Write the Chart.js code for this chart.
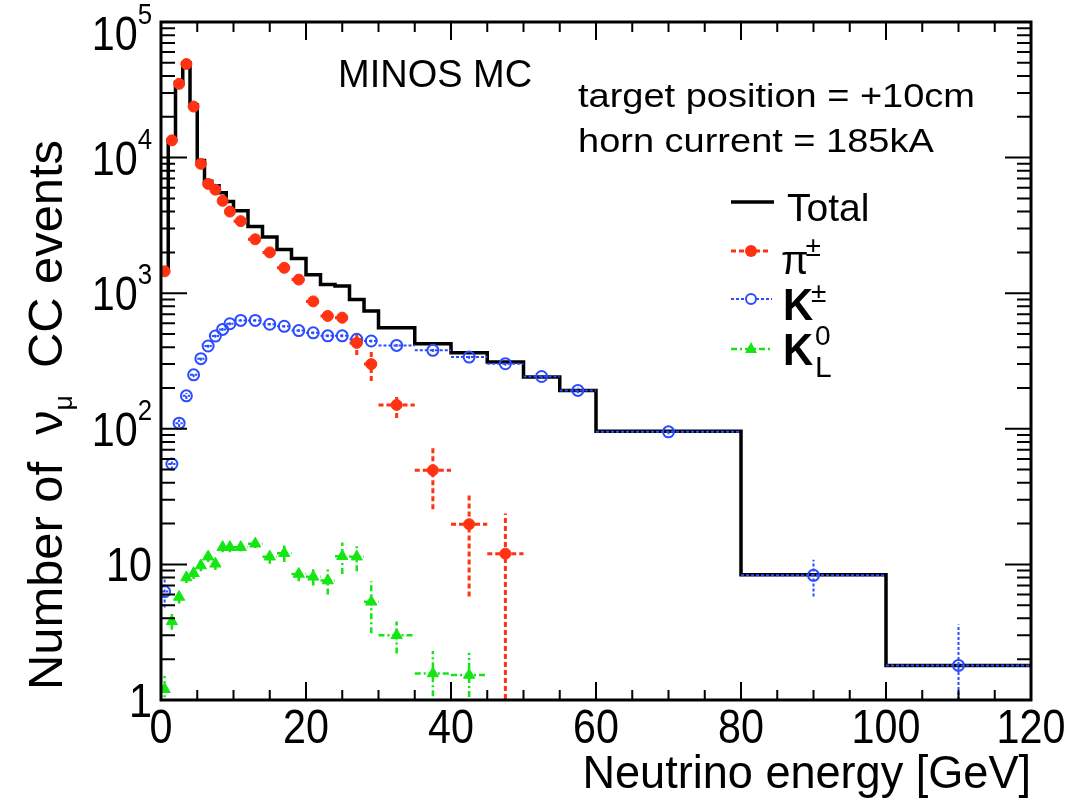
<!DOCTYPE html>
<html>
<head>
<meta charset="utf-8">
<script src="https://cdn.jsdelivr.net/npm/chart.js@4.4.1/dist/chart.umd.min.js"></script>
<style>
  html, body { margin: 0; padding: 0; background: #fff; }
  canvas { display: block; }
</style>
</head>
<body>
<canvas id="fluxChart" width="1072" height="801"></canvas>
<script>
// ---- data ----
const binEdges = [0, 1, 2, 3, 4, 5, 6, 7, 8, 9, 10, 12, 14, 16, 18, 20, 22, 24, 26, 28, 30,
                  35, 40, 45, 50, 55, 60, 80, 100, 120];
const totalCounts = [1450, 13500, 36000, 50000, 24500, 9500, 6700, 6200, 5500, 4750,
                     4050, 3100, 2600, 2100, 1800, 1370, 1160, 1130, 900, 740,
                     556, 424, 364, 311, 241, 192, 96, 8.4, 1.8];

const pionE   = [0.5, 1.5, 2.5, 3.5, 4.5, 5.5, 6.5, 7.5, 8.5, 9.5,
                 11, 13, 15, 17, 19, 21, 23, 25, 27, 29, 32.5, 37.5, 42.5, 47.5];
const pionN   = [1450, 13400, 35000, 49000, 23800, 9000, 6400, 5800, 4800, 4000,
                 3400, 2500, 2000, 1540, 1260, 870, 680, 660, 430, 300, 150, 49.5, 19.8, 12];
const pionErr = [30, 100, 150, 180, 130, 80, 70, 65, 60, 55,
                 40, 35, 30, 30, 30, 30, 60, 60, 80, 75, 30, 24, 14, 11.7];

const kaonE   = [0.5, 1.5, 2.5, 3.5, 4.5, 5.5, 6.5, 7.5, 8.5, 9.5,
                 11, 13, 15, 17, 19, 21, 23, 25, 27, 29, 32.5, 37.5, 42.5, 47.5,
                 52.5, 57.5, 70, 90, 110];
const kaonN   = [6.3, 55, 110, 175, 250, 329, 408, 483, 541, 595,
                 630, 630, 590, 570, 530, 510, 485, 485, 457, 444, 412, 379, 338, 302,
                 243, 192, 95, 8.3, 1.8];
const kaonErr = [1.5, 5, 7, 9, 10, 11, 12, 13, 14, 14,
                 12, 12, 12, 12, 12, 12, 12, 12, 12, 12, 10, 10, 10, 10,
                 10, 9, 4, 2.5, 1.8];

const k0E   = [0.5, 1.5, 2.5, 3.5, 4.5, 5.5, 6.5, 7.5, 8.5, 9.5,
               11, 13, 15, 17, 19, 21, 23, 25, 27, 29, 32.5, 37.5, 42.5];
const k0N   = [1.2, 3.8, 5.75, 8.0, 8.6, 9.8, 11.4, 10.1, 13.4, 13.4,
               13.4, 14.2, 11.4, 12.1, 8.5, 8.1, 7.6, 11.5, 11.4, 5.3, 3.0, 1.57, 1.53];
const k0Err = [0.3, 0.5, 0.6, 0.7, 0.8, 0.9, 1.0, 1.0, 1.1, 1.1,
               0.9, 1.0, 1.3, 1.7, 1.0, 1.1, 1.6, 3.0, 2.5, 2.2, 0.8, 0.73, 0.7];

const xTicks = [0, 20, 40, 60, 80, 100, 120];
const yTicks = [1, 10, 100, 1000, 10000, 100000];
const yTickBase = ['1', '10', '10', '10', '10', '10'];
const yTickExp  = ['', '', '2', '3', '4', '5'];

// ---- styles ----
const FONT = '"Liberation Sans", Arial, Helvetica, sans-serif';
const RED = '#ff3212', BLUE = '#2b4cff', GREEN = '#14e614';

function halfWidth(e) {
    for (let i = 0; i < binEdges.length - 1; i++) {
        if (e >= binEdges[i] && e < binEdges[i + 1]) return (binEdges[i + 1] - binEdges[i]) / 2;
    }
    return 0.5;
}

function pts(xs, ys) {
    return xs.map((x, i) => ({ x, y: ys[i] }));
}

// text with horizontal squeeze/stretch
function sText(ctx, txt, x, y, font, sx, align) {
    ctx.save();
    ctx.font = font;
    const w = ctx.measureText(txt).width * sx;
    const x0 = align === 'center' ? x - w / 2 : align === 'right' ? x - w : x;
    ctx.translate(x0, y);
    ctx.scale(sx, 1);
    ctx.textAlign = 'left';
    ctx.textBaseline = 'alphabetic';
    ctx.fillText(txt, 0, 0);
    ctx.restore();
    return w;
}

function drawErrors(ctx, chart, xs, ys, errs, color, dash, lw) {
    const xs_ = chart.scales.x, ys_ = chart.scales.y;
    ctx.strokeStyle = color;
    ctx.lineWidth = lw;
    ctx.setLineDash(dash);
    xs.forEach((e, i) => {
        const hw = halfWidth(e);
        const px = xs_.getPixelForValue(e);
        const py = ys_.getPixelForValue(ys[i]);
        ctx.beginPath();
        ctx.moveTo(xs_.getPixelForValue(e - hw), py);
        ctx.lineTo(xs_.getPixelForValue(e + hw), py);
        ctx.stroke();
        const lo = ys[i] - errs[i], hi = ys[i] + errs[i];
        const pyLo = lo > 0.05 ? ys_.getPixelForValue(lo) : ys_.bottom + 10;
        ctx.beginPath();
        ctx.moveTo(px, pyLo);
        ctx.lineTo(px, ys_.getPixelForValue(hi));
        ctx.stroke();
    });
    ctx.setLineDash([]);
}

// error bars go right after the Total histogram, under the markers
const errorBars = {
    id: 'errorBars',
    afterDatasetDraw(chart, args) {
        if (args.index !== 0) return;
        const { ctx, chartArea: ca } = chart;
        ctx.save();
        ctx.beginPath();
        ctx.rect(ca.left, ca.top, ca.right - ca.left, ca.bottom - ca.top);
        ctx.clip();
        drawErrors(ctx, chart, k0E, k0N, k0Err, GREEN, [6, 3, 2, 3], 2.5);
        drawErrors(ctx, chart, kaonE, kaonN, kaonErr, BLUE, [3, 2], 2);
        drawErrors(ctx, chart, pionE, pionN, pionErr, RED, [5, 3], 3);
        ctx.restore();
    }
};

// ROOT-style frame, inward ticks, labels, legend and captions
const rootFrame = {
    id: 'rootFrame',
    afterDraw(chart) {
        const { ctx, chartArea: ca } = chart;
        const x = chart.scales.x, y = chart.scales.y;
        ctx.save();
        ctx.strokeStyle = '#000';
        ctx.fillStyle = '#000';

        // ticks
        ctx.lineWidth = 2;
        for (let v = 0; v <= 120; v += 5) {
            const px = x.getPixelForValue(v);
            const len = v % 20 === 0 ? 18 : 10;
            ctx.beginPath();
            ctx.moveTo(px, ca.bottom); ctx.lineTo(px, ca.bottom - len);
            ctx.moveTo(px, ca.top); ctx.lineTo(px, ca.top + len);
            ctx.stroke();
        }
        for (let d = 0; d < 5; d++) {
            for (let m = 1; m <= 9; m++) {
                const py = y.getPixelForValue(m * Math.pow(10, d));
                const len = m === 1 ? 26 : 14;
                ctx.beginPath();
                ctx.moveTo(ca.left, py); ctx.lineTo(ca.left + len, py);
                ctx.moveTo(ca.right, py); ctx.lineTo(ca.right - len, py);
                ctx.stroke();
            }
        }

        // frame
        ctx.lineWidth = 3;
        ctx.strokeRect(ca.left, ca.top, ca.right - ca.left, ca.bottom - ca.top);

        // x tick labels
        xTicks.forEach(v => {
            sText(ctx, String(v), x.getPixelForValue(v), ca.bottom + 43, '48px ' + FONT, 0.86, 'center');
        });

        // y tick labels (10 with superscript exponent)
        yTicks.forEach((v, i) => {
            let base = y.getPixelForValue(v) + 17;
            if (i === yTicks.length - 1) base += 11;
            ctx.font = '48px ' + FONT;
            const wb = ctx.measureText(yTickBase[i]).width * 0.86;
            ctx.font = '30px ' + FONT;
            const we = yTickExp[i] ? ctx.measureText(yTickExp[i]).width * 0.86 : 0;
            const right = 152;
            sText(ctx, yTickBase[i], right - we - wb, base, '48px ' + FONT, 0.86, 'left');
            if (yTickExp[i]) sText(ctx, yTickExp[i], right - we, base - 26, '30px ' + FONT, 0.86, 'left');
        });

        // axis titles
        sText(ctx, 'Neutrino energy [GeV]', ca.right, 788, '46px ' + FONT, 0.98, 'right');

        ctx.save();
        ctx.translate(62, 415);
        ctx.rotate(-Math.PI / 2);
        const runs = [
            { t: 'Number of  ', f: '48px ' + FONT, dy: 0 },
            { t: 'ν', f: '48px ' + FONT, dy: 0 },
            { t: 'μ', f: '26px ' + FONT, dy: 10 },
            { t: '  CC events', f: '48px ' + FONT, dy: 0 }
        ];
        let total = 0;
        runs.forEach(r => { ctx.font = r.f; r.w = ctx.measureText(r.t).width; total += r.w; });
        const sx = 550 / total;
        ctx.scale(sx, 1);
        let cx = -total / 2;
        runs.forEach(r => {
            ctx.font = r.f;
            ctx.textAlign = 'left';
            ctx.fillText(r.t, cx, r.dy);
            cx += r.w;
        });
        ctx.restore();

        // captions
        sText(ctx, 'MINOS MC', 338, 87, '38px ' + FONT, 1.0, 'left');
        ctx.font = '33px ' + FONT;
        const capW = ctx.measureText('target position = +10cm').width;
        const capS = 397 / capW;
        sText(ctx, 'target position = +10cm', 578, 107, '33px ' + FONT, capS, 'left');
        sText(ctx, 'horn current = 185kA', 578, 152, '33px ' + FONT, capS, 'left');

        // legend
        ctx.lineWidth = 3.5;
        ctx.beginPath(); ctx.moveTo(731, 202); ctx.lineTo(774, 202); ctx.stroke();
        sText(ctx, 'Total', 787, 221, '39px ' + FONT, 1.0, 'left');

        ctx.lineWidth = 3; ctx.strokeStyle = RED; ctx.setLineDash([5, 3]);
        ctx.beginPath(); ctx.moveTo(731, 251); ctx.lineTo(771, 251); ctx.stroke();
        ctx.setLineDash([]);
        ctx.fillStyle = RED;
        ctx.beginPath(); ctx.arc(751, 251, 6, 0, Math.PI * 2); ctx.fill();
        ctx.fillStyle = '#000';
        const wpi = sText(ctx, 'π', 781, 274, '40px ' + FONT, 1.0, 'left');
        sText(ctx, '±', 781 + wpi - 3, 256, '28px ' + FONT, 1.0, 'left');

        ctx.lineWidth = 2; ctx.strokeStyle = BLUE; ctx.setLineDash([3, 2]);
        ctx.beginPath(); ctx.moveTo(731, 299); ctx.lineTo(772, 299); ctx.stroke();
        ctx.setLineDash([]);
        ctx.fillStyle = '#fff';
        ctx.beginPath(); ctx.arc(751, 299, 5, 0, Math.PI * 2); ctx.fill(); ctx.stroke();
        ctx.fillStyle = '#000';
        sText(ctx, 'K', 783, 320, 'bold 44px ' + FONT, 0.95, 'left');
        sText(ctx, '±', 811, 302, '28px ' + FONT, 1.0, 'left');

        ctx.lineWidth = 2.5; ctx.strokeStyle = GREEN; ctx.setLineDash([6, 3, 2, 3]);
        ctx.beginPath(); ctx.moveTo(731, 349); ctx.lineTo(772, 349); ctx.stroke();
        ctx.setLineDash([]);
        ctx.fillStyle = GREEN;
        ctx.beginPath(); ctx.moveTo(751, 342); ctx.lineTo(757, 353); ctx.lineTo(745, 353); ctx.closePath(); ctx.fill();
        ctx.fillStyle = '#000';
        sText(ctx, 'K', 783, 365, 'bold 44px ' + FONT, 0.95, 'left');
        sText(ctx, '0', 815, 345, '28px ' + FONT, 1.0, 'left');
        sText(ctx, 'L', 815, 377, '30px ' + FONT, 1.0, 'left');

        ctx.restore();
    }
};

new Chart(document.getElementById('fluxChart'), {
    type: 'line',
    data: {
        datasets: [
            {
                label: 'Total',
                data: binEdges.map((e, i) => ({ x: e, y: totalCounts[Math.min(i, totalCounts.length - 1)] })),
                stepped: 'before',
                borderColor: '#000',
                borderWidth: 3.5,
                pointRadius: 0,
                fill: false,
                order: 4
            },
            {
                label: 'K0L',
                data: pts(k0E, k0N),
                showLine: false,
                pointStyle: 'triangle',
                pointRadius: 6.5,
                backgroundColor: GREEN,
                borderColor: GREEN,
                borderWidth: 1,
                order: 3
            },
            {
                label: 'K+-',
                data: pts(kaonE, kaonN),
                showLine: false,
                pointStyle: 'circle',
                pointRadius: 5.5,
                backgroundColor: 'rgba(255,255,255,0)',
                borderColor: BLUE,
                borderWidth: 2,
                order: 2
            },
            {
                label: 'pi+-',
                data: pts(pionE, pionN),
                showLine: false,
                pointStyle: 'circle',
                pointRadius: 5.5,
                backgroundColor: RED,
                borderColor: RED,
                borderWidth: 1,
                order: 1
            }
        ]
    },
    options: {
        responsive: false,
        animation: false,
        devicePixelRatio: 1,
        events: [],
        layout: { padding: { left: 161, top: 22, right: 41, bottom: 101 } },
        scales: {
            x: { type: 'linear', min: 0, max: 120, display: false },
            y: { type: 'logarithmic', min: 1, max: 100000, display: false }
        },
        plugins: { legend: { display: false }, tooltip: { enabled: false } }
    },
    plugins: [errorBars, rootFrame]
});
</script>
</body>
</html>
